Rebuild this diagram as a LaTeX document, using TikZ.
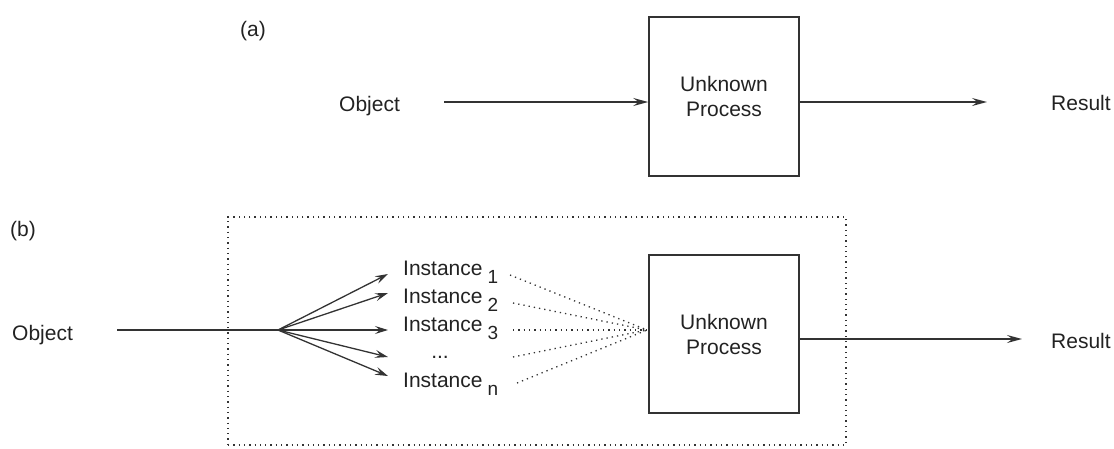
\documentclass[tikz,border=0pt]{standalone}
\usepackage{fontspec}
\setmainfont{Liberation Sans}
\usetikzlibrary{arrows.meta}
\definecolor{ink}{HTML}{333333}
\definecolor{txt}{HTML}{222222}
\tikzset{
  lbl/.style={anchor=base west,inner sep=0pt,text=txt,font=\fontsize{21}{25}\selectfont},
  procbox/.style={draw=ink,line width=1.6pt,minimum width=150pt,inner sep=0pt,align=center,text=txt,font=\fontsize{21}{25}\selectfont},
  arr/.style={draw=ink,line width=1.4pt,-{Stealth[length=15pt,width=8pt,inset=5.5pt]}},
  fan/.style={draw=ink,line width=1.3pt,-{Stealth[length=13pt,width=8pt,inset=5pt]}},
  dots/.style={draw=ink,line width=1.3pt,dash pattern=on 1.3pt off 4pt},
}
\newcommand{\inst}[1]{Instance\hspace{5pt}\raisebox{-8pt}{\fontsize{19}{20}\selectfont #1}}
\begin{document}
\begin{tikzpicture}[x=1pt,y=-1pt]
\useasboundingbox (0,0) rectangle (1114,448);
% ---------- (a)
\node[lbl] (la) at (240,36) {(a)};
\node[lbl] (obja) at (339,111) {Object};
\node[procbox,minimum height=159pt] (boxa) at (724,96.5) {Unknown\\Process};
\node[lbl] (resa) at (1051,110) {Result};
\coordinate (ain) at (444,102);
\coordinate (aout) at (987,102);
\draw[arr] (ain) -- (ain -| boxa.west);
\draw[arr] (ain -| boxa.east) -- (aout);
% ---------- (b)
\node[lbl] (lb) at (10,236) {(b)};
\node[draw=ink,dots,minimum width=618pt,minimum height=228pt,inner sep=0pt] (frame) at (537,331) {};
\node[lbl] (objb) at (12,340) {Object};
\node[procbox,minimum height=158pt] (boxb) at (724,334) {Unknown\\Process};
\node[lbl] (resb) at (1051,348) {Result};
\node[lbl] (i1) at (403,275) {\inst{1}};
\node[lbl] (i2) at (403,303) {\inst{2}};
\node[lbl] (i3) at (403,331) {\inst{3}};
\node[lbl,anchor=base] (idots) at (440,358) {...};
\node[lbl] (in) at (403,387) {\inst{n}};
\coordinate (bin) at (117,330);
\coordinate (fork) at (278,330);
\coordinate (f1) at (388,274);
\coordinate (f2) at (388,293);
\coordinate (f3) at (388,330);
\coordinate (f4) at (388,357);
\coordinate (f5) at (388,376);
\draw[draw=ink,line width=1.4pt] (bin) -- (fork);
\foreach \t in {f1,f2,f3,f4,f5} \draw[fan] (fork) -- (\t);
\coordinate (conv) at (647,330);
\coordinate (d1) at (510,275);
\coordinate (d2) at (513,303);
\coordinate (d3) at (513,330);
\coordinate (d4) at (513,357);
\coordinate (d5) at (517,383);
\foreach \s in {d1,d2,d3,d4,d5} \draw[dots] (\s) -- (conv);
\coordinate (bout) at (1022,339);
\draw[arr] (bout -| boxb.east) -- (bout);
\end{tikzpicture}
\end{document}
